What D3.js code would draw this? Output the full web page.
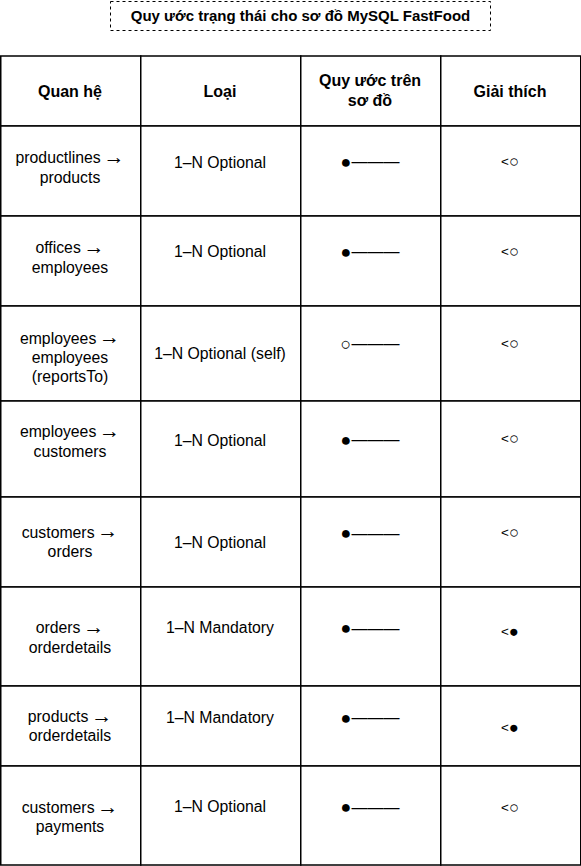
<!DOCTYPE html>
<html>
<head>
<meta charset="utf-8">
<script src="https://cdn.jsdelivr.net/npm/d3@7"></script>
<style>
  html, body { margin: 0; padding: 0; background: #fff; }
  svg { display: block; }
  text { font-family: "Liberation Sans", Arial, Helvetica, sans-serif; fill: #000; }
</style>
</head>
<body>
<svg id="chart" width="581" height="866"></svg>
<script>
// ---------------- DATA ----------------
const title = "Quy ước trạng thái cho sơ đồ MySQL FastFood";
const headers = [["Quan hệ"], ["Loại"], ["Quy ước trên", "sơ đồ"], ["Giải thích"]];
const relations = [
  ["productlines →", "products"],
  ["offices →", "employees"],
  ["employees →", "employees", "(reportsTo)"],
  ["employees →", "customers"],
  ["customers →", "orders"],
  ["orders →", "orderdetails"],
  ["products →", "orderdetails"],
  ["customers →", "payments"]
];
const types = [
  "1–N Optional", "1–N Optional", "1–N Optional (self)", "1–N Optional",
  "1–N Optional", "1–N Mandatory", "1–N Mandatory", "1–N Optional"
];
// diagram notation: end marker + line
const symbolMarks = ["●", "●", "○", "●", "●", "●", "●", "●"];
const symbolLine = "———";
// explanation: crow's foot "<" + marker
const explanationMarks = ["○", "○", "○", "○", "○", "●", "●", "○"];
const explanationPrefix = "<";

// ---------------- LAYOUT ----------------
const tableTop = 56;
const colEdges = [0, 140, 300, 440, 580];
const rowHeights = [70, 90, 90, 95, 96, 90, 99, 80, 99]; // header + 8 rows
// vertical centre offset (from row top) of each cell's text block, per column
const cellCentres = [
  [35, 35, 34.5, 35],
  [41.5, 36, 36, 35.5],
  [41.5, 35.5, 36, 35.5],
  [51.5, 47.3, 38, 37.3],
  [40.5, 39, 39, 38],
  [45, 45.3, 36.3, 35.3],
  [50.5, 40.7, 41.3, 44.7],
  [40.3, 31.3, 31.7, 41.3],
  [51.3, 40.7, 41.3, 41.3]
];
const fsBody = 15.8, fsHead = 16, fsTitle = 15, lineH = 19.3;
const fsArrow = 21, fsSpace = 10, fsLine = 16, fsMark = 18, fsLt = 13.5, fsMark2 = 16.5;

const svg = d3.select("#chart");

// title box
const titleBox = {x0: 110.5, x1: 490.5, y0: 1.5, y1: 30.5};
svg.append("rect")
  .attr("x", titleBox.x0).attr("y", titleBox.y0)
  .attr("width", titleBox.x1 - titleBox.x0).attr("height", titleBox.y1 - titleBox.y0)
  .attr("fill", "#fff").attr("stroke", "#000").attr("stroke-width", 1)
  .attr("stroke-dasharray", "3,3");
svg.append("text")
  .attr("x", (titleBox.x0 + titleBox.x1) / 2)
  .attr("y", (titleBox.y0 + titleBox.y1) / 2 + fsTitle * 0.35)
  .attr("text-anchor", "middle")
  .attr("font-weight", "bold")
  .attr("font-size", fsTitle)
  .text(title);

// row edges via cumulative sums
const rowEdges = [tableTop, ...Array.from(d3.cumsum(rowHeights), v => tableTop + v)];
const x = d3.scaleOrdinal().domain(d3.range(4)).range(colEdges.slice(0, 4));
const colW = i => colEdges[i + 1] - colEdges[i];

// build rows: each cell = {kind, lines}
const rows = [
  {bold: true, cells: headers.map(h => ({kind: "text", lines: h}))},
  ...relations.map((r, i) => ({
    bold: false,
    cells: [
      {kind: "text", lines: r},
      {kind: "text", lines: [types[i]]},
      {kind: "sym", mark: symbolMarks[i]},
      {kind: "expl", mark: explanationMarks[i]}
    ]
  }))
];

const g = svg.append("g");

// cell borders
rows.forEach((row, ri) => {
  row.cells.forEach((c, ci) => {
    g.append("rect")
      .attr("x", x(ci) + 0.75)
      .attr("y", rowEdges[ri])
      .attr("width", colW(ci))
      .attr("height", rowEdges[ri + 1] - rowEdges[ri])
      .attr("fill", "#fff")
      .attr("stroke", "#000")
      .attr("stroke-width", 1.5);
  });
});

// cell texts
rows.forEach((row, ri) => {
  row.cells.forEach((c, ci) => {
    const cy = rowEdges[ri] + cellCentres[ri][ci];
    const cx = x(ci) + colW(ci) / 2;
    if (c.kind === "text") {
      const fs = row.bold ? fsHead : fsBody;
      c.lines.forEach((ln, li) => {
        const t = g.append("text")
          .attr("x", cx)
          .attr("y", cy + (li - (c.lines.length - 1) / 2) * lineH + fs * 0.35)
          .attr("text-anchor", "middle")
          .attr("font-size", fs)
          .attr("font-weight", row.bold ? "bold" : "normal");
        if (ln.endsWith(" →")) {
          t.append("tspan").text(ln.slice(0, -2));
          t.append("tspan").attr("font-size", fsSpace).text(" ");
          t.append("tspan").attr("font-size", fsArrow).attr("dy", 0.6).text("→");
        } else {
          t.text(ln);
        }
      });
    } else if (c.kind === "sym") {
      const t = g.append("text")
        .attr("x", cx)
        .attr("y", cy + fsLine * 0.33)
        .attr("text-anchor", "middle")
        .attr("font-size", fsLine);
      t.append("tspan").attr("font-size", fsMark).attr("dy", 0.8).text(c.mark);
      t.append("tspan").attr("dy", -0.8).text(symbolLine);
    } else {
      const t = g.append("text")
        .attr("x", cx)
        .attr("y", cy + fsLt * 0.33)
        .attr("text-anchor", "middle")
        .attr("font-size", fsLt);
      t.append("tspan").text(explanationPrefix);
      t.append("tspan").attr("font-size", fsMark2).attr("dy", 0.9).text(c.mark);
    }
  });
});
</script>
</body>
</html>
